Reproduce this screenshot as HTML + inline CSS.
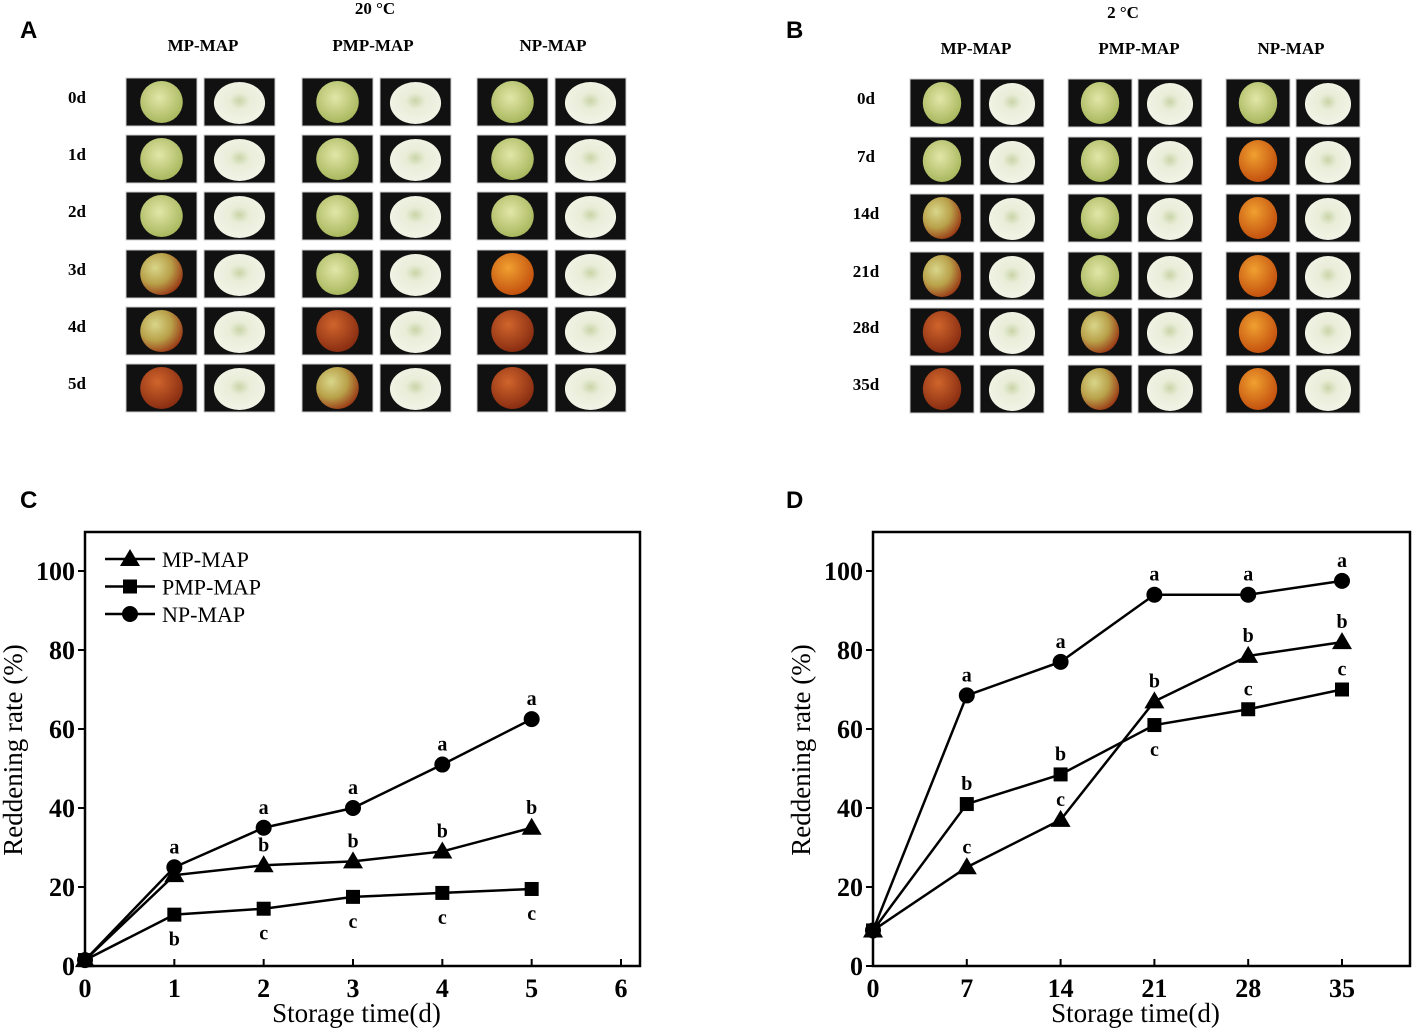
<!DOCTYPE html>
<html><head><meta charset="utf-8"><style>
body{margin:0;background:#fff}
svg{display:block}
text{font-family:"Liberation Serif",serif;fill:#000}
.b{font-weight:bold}
.lab{font-family:"Liberation Sans",sans-serif;font-weight:bold;font-size:24px}
</style></head><body>
<svg id="s" width="1417" height="1033" xmlns="http://www.w3.org/2000/svg">
<defs>
<radialGradient id="gG" cx="45%" cy="40%" r="60%"><stop offset="0" stop-color="#e2e6a8"/><stop offset="1" stop-color="#a9b85e"/></radialGradient>
<radialGradient id="gR" cx="40%" cy="35%" r="65%"><stop offset="0" stop-color="#d0652c"/><stop offset="1" stop-color="#8a2e12"/></radialGradient>
<radialGradient id="gO" cx="40%" cy="35%" r="65%"><stop offset="0" stop-color="#f0a030"/><stop offset="1" stop-color="#c4520f"/></radialGradient>
<radialGradient id="gP" cx="35%" cy="35%" r="70%"><stop offset="0" stop-color="#d8d68a"/><stop offset="0.55" stop-color="#b9a14a"/><stop offset="1" stop-color="#9a3a16"/></radialGradient>
<radialGradient id="gH" cx="50%" cy="45%" r="55%"><stop offset="0" stop-color="#c9d4a8"/><stop offset="0.35" stop-color="#e9edd8"/><stop offset="1" stop-color="#f2f3e6"/></radialGradient>
</defs>
<text class="lab" x="20" y="38">A</text>
<text class="lab" x="786" y="38">B</text>
<text class="lab" x="20" y="508">C</text>
<text class="lab" x="786" y="508">D</text>
<text class="b" x="375" y="14" font-size="17" text-anchor="middle">20 °C</text>
<text class="b" x="1123" y="18" font-size="17" text-anchor="middle">2 °C</text>
<g id="photos"></g>
<g id="chartC"></g>
<g id="chartD"></g>
</svg>
<script>
const NS='http://www.w3.org/2000/svg';
function mk(p,tag,at,txt){const e=document.createElementNS(NS,tag);for(const k in at)e.setAttribute(k,at[k]);if(txt!==undefined)e.textContent=txt;p.appendChild(e);return e;}
const ph=document.getElementById('photos');
const aHeads=['MP-MAP','PMP-MAP','NP-MAP'], aHeadX=[203,373,553];
const aRows=['0d','1d','2d','3d','4d','5d'], aRowY=[78,135,192,250,307,364];
const aColX=[126,302,477], aW=71;
const aFruit=[['G','G','G'],['G','G','G'],['G','G','G'],['P','G','O'],['P','R','R'],['R','P','R']];
const bHeadX=[976,1139,1291];
const bRows=['0d','7d','14d','21d','28d','35d'], bRowY=[79,137,194,252,308,365];
const bColX=[910,1068,1226], bW=64;
const bFruit=[['G','G','G'],['G','G','O'],['P','G','O'],['P','G','O'],['R','P','O'],['R','P','O']];
function grid(heads,hx,hy,rows,ry,rx,cx,w,gap,fr,pre){
  heads.forEach((h,i)=>{const t=mk(ph,'text',{x:hx[i],y:hy,'font-size':17,'text-anchor':'middle',class:'b'},h);
    
    });
  rows.forEach((r,j)=>{const t=mk(ph,'text',{x:rx,y:ry[j]+25,'font-size':17,'text-anchor':'middle',class:'b'},r);
    
    
    cx.forEach((x0,i)=>{
      for(let k=0;k<2;k++){
        const x=x0+k*(w+gap), y=ry[j];
        const g=mk(ph,'g',{});
        
        
        mk(g,'rect',{x:x,y:y,width:w,height:48,fill:'#111',stroke:'#ccc','stroke-width':1});
        if(k===0){mk(g,'ellipse',{cx:x+w/2,cy:y+24,rx:w*0.3,ry:21,fill:'url(#g'+fr[j][i]+')'});}
        else{mk(g,'ellipse',{cx:x+w/2,cy:y+25,rx:w*0.36,ry:21,fill:'url(#gH)'});}
      }});
  });
}
grid(aHeads,aHeadX,51,aRows,aRowY,77,aColX,aW,7,aFruit,'a');
grid(aHeads,bHeadX,54,bRows,bRowY,866,bColX,bW,6,bFruit,'b');

const cDays=[0,1,2,3,4,5];
const cMP=[1.5,23,25.5,26.5,29,35];
const cPMP=[1.5,13,14.5,17.5,18.5,19.5];
const cNP=[1.5,25,35,40,51,62.5];
const cXTicks=[0,1,2,3,4,5,6];
const cLetNP=['','a','a','a','a','a'];
const cLetMP=['','','b','b','b','b'];
const cLetPMP=['','b','c','c','c','c'];
const dDays=[0,7,14,21,28,35];
const dMP=[9,25,37,67,78.5,82];
const dPMP=[9,41,48.5,61,65,70];
const dNP=[9,68.5,77,94,94,97.5];
const dXTicks=[0,7,14,21,28,35];
const dLetNP=['','a','a','a','a','a'];
const dLetMP=['','c','c','b','b','b'];
const dLetPMP=['','b','b','c','c','c'];
const yTicks=[0,20,40,60,80,100];

function chart(id,x0,x1,xmin,xmax,boxR,days,series,xt,letters,legend){
  const g=document.getElementById(id);
  const yB=966,yT=532;
  const X=v=>x0+(v-xmin)/(xmax-xmin)*(x1-x0);
  const Y=v=>yB-v*3.95;
  const box=mk(g,'rect',{x:x0,y:yT,width:boxR-x0,height:yB-yT,fill:'none',stroke:'#000','stroke-width':2.5});
  
  
  xt.forEach(v=>{mk(g,'line',{x1:X(v),x2:X(v),y1:yB,y2:yB-7,stroke:'#000','stroke-width':2});
    const t=mk(g,'text',{x:X(v),y:yB+31,'font-size':26,'text-anchor':'middle',class:'b'},v);
    
    });
  yTicks.forEach(v=>{mk(g,'line',{x1:x0,x2:x0-7,y1:Y(v),y2:Y(v),stroke:'#000','stroke-width':2});
    const t=mk(g,'text',{x:x0-10,y:Y(v)+9,'font-size':26,'text-anchor':'end',class:'b'},v);
    
    });
  const xl=mk(g,'text',{x:(x0+boxR)/2-6,y:1022,'font-size':27,'text-anchor':'middle'},'Storage time(d)');
  
  
  const yl=mk(g,'text',{x:0,y:0,'font-size':27,'text-anchor':'middle',transform:`translate(${x0-63},750) rotate(-90)`},'Reddening rate (%)');
  
  
  series.forEach(s=>{
    const sg=mk(g,'g',{});
    
    
    mk(sg,'polyline',{points:days.map((d,i)=>X(d)+','+Y(s.v[i])).join(' '),fill:'none',stroke:'#000','stroke-width':2.5});
    days.forEach((d,i)=>marker(sg,s.m,X(d),Y(s.v[i])));
  });
  letters.forEach(L=>{days.forEach((d,i)=>{if(!L.t[i])return;
    const off=L.pos[i]==='b'?31:-14;
    const t=mk(g,'text',{x:X(d),y:Y(L.v[i])+off,'font-size':20,'text-anchor':'middle',class:'b'},L.t[i]);
    
    });});
  if(legend){['MP-MAP','PMP-MAP','NP-MAP'].forEach((n,i)=>{const y=559+i*27.5;
    const lg=mk(g,'g',{});
    
    
    mk(lg,'line',{x1:105,x2:155,y1:y,y2:y,stroke:'#000','stroke-width':2.5});
    marker(lg,['t','s','c'][i],130,y);
    mk(lg,'text',{x:162,y:y+8,'font-size':22},n);});}
}
function marker(p,m,x,y){
  if(m==='c')mk(p,'circle',{cx:x,cy:y,r:8,fill:'#000'});
  else if(m==='s')mk(p,'rect',{x:x-7,y:y-7,width:14,height:14,fill:'#000'});
  else mk(p,'polygon',{points:`${x},${y-10} ${x-10},${y+7} ${x+10},${y+7}`,fill:'#000'});
}
chart('chartC',85,621,0,6,640,cDays,
  [{name:'MP-MAP',v:cMP,m:'t'},{name:'PMP-MAP',v:cPMP,m:'s'},{name:'NP-MAP',v:cNP,m:'c'}],cXTicks,
  [{v:cNP,t:cLetNP,pos:['a','a','a','a','a','a']},{v:cMP,t:cLetMP,pos:['a','a','a','a','a','a']},{v:cPMP,t:cLetPMP,pos:['b','b','b','b','b','b']}],true);
chart('chartD',873,1342,0,35,1410,dDays,
  [{name:'MP-MAP',v:dMP,m:'t'},{name:'PMP-MAP',v:dPMP,m:'s'},{name:'NP-MAP',v:dNP,m:'c'}],dXTicks,
  [{v:dNP,t:dLetNP,pos:['a','a','a','a','a','a']},{v:dMP,t:dLetMP,pos:['a','a','a','a','a','a']},{v:dPMP,t:dLetPMP,pos:['a','a','a','b','a','a']}],false);
</script>
</body></html>
